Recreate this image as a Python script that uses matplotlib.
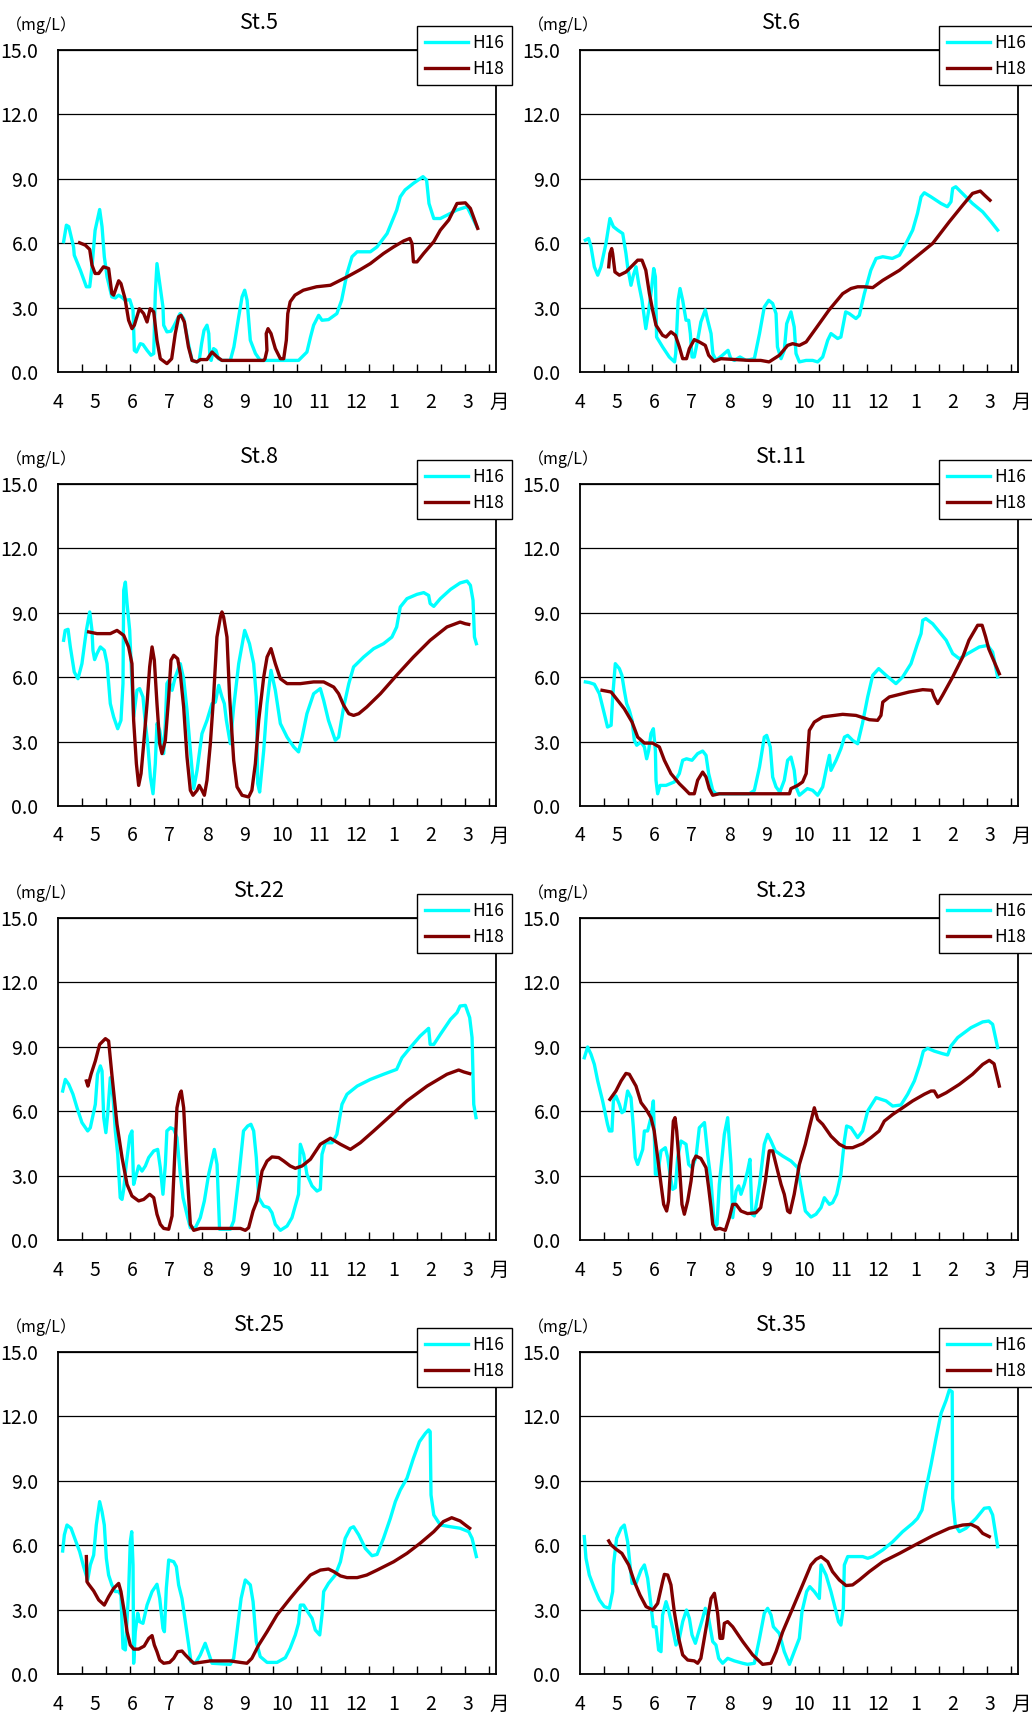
import matplotlib.pyplot as plt
import numpy as np

plt.rcParams['font.family'] = ['Noto Sans CJK JP', 'DejaVu Sans']

# 横軸は4月1日からの日数
months = ['4', '5', '6', '7', '8', '9', '10', '11', '12', '1', '2', '3']
stations = ['St.5', 'St.6', 'St.8', 'St.11', 'St.22', 'St.23', 'St.25', 'St.35']
series_names = ['H16', 'H18']
colors = ['#00FFFF', '#800000']

# (日数, mg/L)
st5_h16 = [(4.7, 6.07), (7, 6.84), (9, 6.77), (13, 5.83), (13.6, 5.44), (18.7, 4.74), (23.7, 3.97), (26.5, 3.97),
           (28.4, 4.9), (31, 6.6), (34.8, 7.57), (36.8, 6.77), (38.7, 5.37), (41, 4.43), (45, 3.5), (47.9, 3.45),
           (50.7, 3.58), (54, 3.45), (56, 3.34), (60, 3.37), (62.7, 2.88), (63.8, 1.01), (65.5, 0.93), (68.8, 1.32),
           (71, 1.28), (74.4, 1.01), (77.7, 0.78), (80, 0.86), (81.3, 3.65), (82.7, 5.05), (85, 4.12), (87.7, 3.03),
           (88.3, 2.18), (91, 1.87), (94.4, 1.9), (97.2, 2.18), (102, 2.72), (105, 2.49), (109, 1.32), (112, 0.54),
           (116, 0.47), (118, 0.54), (120, 1.32), (122, 1.94), (124.5, 2.18), (126, 1.79), (127, 0.62), (128, 0.54),
           (130, 1.09), (132, 1.01), (134, 0.62), (137, 0.54), (144, 0.54), (147, 1.17), (151, 2.57), (153.8, 3.5),
           (156, 3.81), (158, 3.34), (160.7, 1.48), (165, 0.86), (169, 0.54), (201, 0.54), (208, 0.93), (211, 1.63),
           (213.6, 2.18), (217.8, 2.64), (220.6, 2.41), (226, 2.44), (233, 2.72), (237, 3.34), (241.5, 4.59),
           (245.7, 5.37), (250, 5.6), (261, 5.6), (266.6, 5.83), (275, 6.45), (283, 7.54), (286, 8.16), (290, 8.48),
           (297, 8.79), (305, 9.1), (308, 8.94), (310, 7.85), (314, 7.15), (319.5, 7.15), (328, 7.39), (333, 7.54),
           (341.8, 7.7), (350, 6.77)]
st5_h18 = [(18, 6.02), (22.8, 5.91), (26.5, 5.71), (28.4, 4.98), (31, 4.59), (34, 4.59), (38, 4.9), (42.3, 4.82),
           (45, 3.65), (46.5, 3.58), (50.7, 4.25), (52.6, 4.12), (56, 3.42), (59, 2.41), (61.8, 2.02), (63.8, 2.18),
           (68, 2.95), (71.6, 2.72), (74.4, 2.33), (77, 2.95), (80, 2.8), (82.7, 1.48), (85.5, 0.62), (91, 0.39),
           (95, 0.62), (98, 1.79), (100.8, 2.57), (102.8, 2.64), (105.6, 2.33), (109, 1.17), (112, 0.54), (116, 0.47),
           (119, 0.58), (124.5, 0.58), (128.7, 0.93), (133, 0.7), (137, 0.54), (172, 0.54), (173, 0.62), (174.6, 1.01),
           (174, 1.79), (175.5, 2.02), (178, 1.79), (181.6, 1.09), (185.8, 0.62), (188.6, 0.62), (190.8, 1.48),
           (192, 2.72), (194, 3.27), (198, 3.58), (205, 3.81), (216, 3.97), (227.6, 4.04), (241.5, 4.43),
           (252.6, 4.77), (261, 5.05), (272, 5.52), (280.5, 5.83), (289, 6.11), (294, 6.22), (295.8, 5.99),
           (297, 5.13), (300, 5.13), (305.5, 5.52), (314, 6.07), (319.5, 6.61), (326.5, 7.08), (333.4, 7.85),
           (340.4, 7.88), (344.6, 7.62), (350.7, 6.69)]

st6_h16 = [(4.5, 6.14), (7.2, 6.22), (9.2, 5.83), (12, 4.9), (14.8, 4.51), (17.5, 4.9), (21.7, 5.99), (25, 7.15),
           (27.9, 6.77), (31.5, 6.61), (35.7, 6.45), (38.4, 5.52), (39.8, 4.9), (42.6, 4.04), (44.6, 4.51), (46.8, 4.9),
           (49, 4.12), (51.8, 3.34), (55, 2.02), (57.4, 2.88), (60, 3.97), (61.6, 4.82), (63, 4.43), (64, 1.63),
           (69, 1.17), (74.6, 0.7), (79, 0.47), (80, 0.86), (82, 3.34), (83.6, 3.89), (85.8, 3.34), (88.6, 2.41),
           (90.8, 2.41), (92.2, 1.79), (93.6, 0.7), (95.5, 0.7), (98.3, 1.48), (101, 2.33), (104.7, 2.9), (106.7, 2.41),
           (109.5, 1.79), (111, 0.86), (113.6, 0.54), (119, 0.78), (123.7, 1.01), (126, 0.62), (129, 0.54),
           (133.7, 0.7), (138.7, 0.54), (145.7, 0.62), (150, 1.79), (154, 3.03), (157.7, 3.34), (161, 3.19),
           (163.8, 2.72), (165, 1.17), (168, 0.62), (170.7, 1.01), (172.7, 2.25), (176.3, 2.8), (179, 2.1),
           (180.5, 0.86), (183.3, 0.47), (188.9, 0.54), (194.4, 0.54), (198.6, 0.47), (202.8, 0.7), (207, 1.48),
           (209.7, 1.79), (215.3, 1.56), (218, 1.63), (222, 2.8), (225, 2.72), (230.6, 2.49), (233.4, 2.64),
           (237.6, 3.65), (243, 4.74), (247.4, 5.29), (253, 5.37), (261, 5.29), (266.9, 5.44), (272.4, 5.99),
           (278, 6.61), (282, 7.39), (285, 8.16), (287.7, 8.35), (293.3, 8.16), (301.7, 7.85), (307, 7.7),
           (310, 7.93), (311.4, 8.55), (314, 8.63), (321, 8.24), (328, 7.85), (336.5, 7.46), (343.5, 7.0),
           (349, 6.61)]
st6_h18 = [(24, 4.9), (25, 5.52), (26.5, 5.75), (27.3, 5.52), (29.2, 4.66), (32.9, 4.51), (38.4, 4.66), (44, 4.97),
           (48.2, 5.21), (51.8, 5.21), (55, 4.74), (58, 3.65), (60.7, 2.88), (63.5, 2.18), (69, 1.71), (71.9, 1.63),
           (76, 1.87), (79.7, 1.71), (83, 1.17), (85.8, 0.62), (89, 0.62), (91.4, 1.09), (95.5, 1.51), (99.7, 1.4),
           (104.7, 1.24), (107.5, 0.78), (112, 0.5), (117.8, 0.62), (141.5, 0.54), (151, 0.54), (158, 0.47),
           (166.6, 0.78), (173.5, 1.24), (177.7, 1.32), (183.3, 1.24), (189, 1.4), (197, 2.02), (208, 2.88),
           (219.5, 3.65), (226.5, 3.89), (232, 3.97), (237.6, 3.97), (244.6, 3.93), (253, 4.27), (267, 4.74),
           (281, 5.37), (294.7, 5.99), (308.6, 7.0), (319.8, 7.77), (328, 8.32), (334.5, 8.43), (338, 8.24),
           (342.6, 8.0)]

st8_h16 = [(4.7, 7.72), (6, 8.18), (8.4, 8.23), (10.3, 7.41), (13.6, 6.24), (16.7, 5.93), (20, 6.63), (23.7, 8.18),
           (26.5, 9.04), (28.4, 8.18), (29.2, 7.25), (30.6, 6.82), (32.6, 7.1), (35.4, 7.41), (38.7, 7.25), (41, 6.63),
           (43.7, 4.77), (46.5, 4.15), (49.9, 3.6), (52.6, 3.99), (54.3, 5.7), (54.9, 10.05), (56.3, 10.43),
           (57.7, 9.43), (59.9, 8.18), (61.8, 5.7), (63.2, 4.15), (66, 5.39), (68.2, 5.47), (71, 5.08), (73, 3.84),
           (75, 2.9), (77.2, 1.35), (79.4, 0.57), (81.3, 1.97), (82.7, 3.84), (85, 3.52), (88.3, 2.44), (89.7, 3.84),
           (91, 5.7), (92.5, 5.85), (95.3, 5.39), (98, 6.01), (102.2, 6.63), (105, 5.93), (107.8, 4.46), (110.6, 2.59),
           (113.4, 0.81), (116.2, 1.66), (120.3, 3.37), (124.5, 3.99), (128.7, 4.77), (131.5, 4.84), (134.3, 5.62),
           (137, 5.08), (139, 4.77), (140.7, 3.99), (144, 2.9), (146.8, 4.61), (151, 6.63), (156, 8.18), (160, 7.56),
           (163.5, 6.63), (165.7, 5.08), (166.9, 1.04), (168.5, 0.65), (171.9, 2.59), (174.7, 4.77), (178, 6.32),
           (181.6, 5.39), (185.8, 3.84), (191.4, 3.21), (197, 2.75), (201, 2.52), (204, 3.21), (208, 4.3),
           (213.6, 5.23), (219.2, 5.47), (222, 4.92), (226, 3.99), (231.7, 3.06), (234.5, 3.21), (238.7, 4.61),
           (243, 5.7), (247, 6.48), (255.4, 6.94), (263.8, 7.33), (272, 7.56), (279, 7.87), (283, 8.34), (286, 9.27),
           (291.6, 9.66), (300, 9.86), (305.6, 9.94), (309.7, 9.81), (311, 9.43), (314, 9.3), (319.5, 9.66),
           (328, 10.09), (336, 10.39), (341.8, 10.48), (344.6, 10.28), (346.8, 9.58), (348, 7.87), (349.6, 7.56)]
st8_h18 = [(25.6, 8.11), (32.6, 8.03), (43.7, 8.03), (49.3, 8.18), (54.9, 7.95), (59, 7.41), (61.8, 6.63),
           (63.2, 3.99), (65.5, 1.97), (67.4, 0.96), (69.4, 1.51), (71.6, 2.9), (74.4, 4.77), (76.6, 6.48),
           (78.6, 7.41), (80.5, 6.79), (82.7, 4.77), (85, 2.9), (86.9, 2.44), (89.7, 3.06), (92.5, 5.08), (94.4, 6.79),
           (96.7, 7.02), (100, 6.86), (102.2, 6.16), (105, 4.61), (107.8, 2.28), (110.6, 0.73), (112.8, 0.5),
           (116.2, 0.73), (118, 0.96), (120.3, 0.73), (122.3, 0.5), (124.5, 1.2), (127.3, 2.9), (130, 5.08),
           (132.8, 7.87), (135.7, 8.8), (137, 9.04), (138.4, 8.8), (141.2, 7.87), (143.4, 5.08), (146.8, 2.13),
           (149.6, 0.89), (153.8, 0.5), (159.3, 0.42), (162, 0.73), (164.9, 1.97), (167.7, 3.99), (171.9, 6.01),
           (174.7, 6.94), (178, 7.33), (181.6, 6.63), (185.8, 5.93), (191.4, 5.7), (202.5, 5.7), (213.6, 5.78),
           (222, 5.78), (230.4, 5.54), (234.5, 5.23), (238.7, 4.69), (243, 4.3), (247, 4.22), (251.3, 4.3),
           (258, 4.61), (269.4, 5.23), (283, 6.09), (297, 6.94), (311, 7.72), (325, 8.34), (336, 8.57),
           (340.4, 8.49), (343.2, 8.46)]

st11_h16 = [(4.5, 5.78), (7.8, 5.75), (12, 5.67), (16.2, 5.23), (20.3, 4.3), (23, 3.68), (26, 3.76), (27.3, 5.08),
            (29.5, 6.63), (32.9, 6.4), (35, 6.09), (37, 5.39), (39, 4.77), (41.2, 4.46), (43.5, 3.99), (45.4, 3.06),
            (47.4, 2.83), (51, 2.98), (53.8, 2.75), (55.7, 2.2), (57.4, 2.59), (59.3, 3.37), (61.3, 3.6), (63, 2.59),
            (63.5, 1.2), (64.9, 0.57), (66.9, 0.96), (71.9, 0.96), (78.8, 1.12), (83, 1.51), (85.8, 2.13), (89, 2.2),
            (93.6, 2.13), (98.3, 2.44), (102.5, 2.56), (105.3, 2.36), (107.5, 1.51), (110.9, 0.73), (113.6, 0.57),
            (119, 0.57), (141.5, 0.57), (145.7, 0.73), (150, 1.82), (154, 3.21), (156, 3.29), (159, 2.75),
            (161, 1.35), (163.8, 0.89), (167, 0.65), (170.7, 1.2), (173.5, 2.13), (176.3, 2.28), (179, 1.66),
            (180.5, 0.89), (183.3, 0.5), (190, 0.81), (194.4, 0.73), (198.6, 0.5), (202.8, 0.89), (205.6, 1.66),
            (208.4, 2.36), (209.7, 1.66), (214, 2.13), (218, 2.67), (221, 3.21), (223.7, 3.29), (227.8, 3.06),
            (232, 2.9), (236, 3.84), (240.4, 5.08), (244.6, 6.09), (249.6, 6.4), (255.7, 6.09), (264, 5.7),
            (269.6, 6.01), (276.6, 6.63), (282, 7.56), (285, 8.03), (286.4, 8.65), (289, 8.73), (294.7, 8.49),
            (306, 7.72), (311.4, 7.1), (317, 6.86), (324, 7.1), (333.7, 7.41), (340.7, 7.48), (344.8, 7.17),
            (349, 6.01)]
st11_h18 = [(18.4, 5.39), (26, 5.31), (31.5, 4.92), (37, 4.53), (43.5, 3.91), (48.2, 3.21), (53.8, 2.93),
            (60.7, 2.93), (66.3, 2.75), (70.5, 2.13), (76, 1.51), (83, 1.04), (87.2, 0.81), (91.4, 0.57),
            (95.5, 0.57), (98.3, 1.2), (102.5, 1.58), (105.3, 1.35), (108, 0.81), (110.9, 0.5), (116.4, 0.57),
            (175, 0.57), (176.3, 0.81), (181.9, 0.96), (186, 1.12), (189, 1.51), (191.6, 3.52), (195.8, 3.91),
            (202.8, 4.15), (219.5, 4.27), (230.6, 4.22), (241.8, 4.02), (248.7, 3.99), (251.5, 4.22), (253, 4.84),
            (258.5, 5.08), (275, 5.31), (286.4, 5.42), (294, 5.39), (296, 5.08), (298.9, 4.77), (303, 5.16),
            (311.4, 6.01), (319.8, 6.94), (325, 7.72), (332.3, 8.42), (336, 8.42), (339, 7.87), (341.5, 7.33),
            (350.4, 6.16)]

st22_h16 = [(3.9, 6.94), (6.1, 7.48), (9, 7.25), (12.5, 6.79), (15.9, 6.16), (20, 5.47), (24.8, 5.08), (27, 5.23),
            (31.2, 6.32), (33, 7.72), (35.4, 8.11), (36.8, 7.87), (38.2, 5.7), (40, 5.0), (41.5, 5.85), (43.7, 7.56),
            (46, 6.63), (47.9, 5.08), (49.9, 3.99), (52, 1.97), (53.5, 1.89), (54.9, 2.36), (57, 3.52), (60, 4.84),
            (61.8, 5.08), (63.2, 2.59), (65.5, 3.06), (67.4, 3.45), (70.2, 3.21), (73, 3.45), (75.8, 3.84), (80, 4.15),
            (83.3, 4.22), (85.5, 3.37), (87.7, 2.13), (89.7, 3.52), (91, 5.08), (93.9, 5.23), (96.7, 5.16),
            (99.4, 4.77), (102.2, 3.06), (104.5, 1.97), (106.4, 1.51), (108.4, 1.04), (110.6, 0.57), (114.8, 0.57),
            (118.9, 1.04), (122.3, 1.82), (125.9, 3.06), (130.6, 4.22), (132.9, 3.52), (134.3, 1.51), (135, 0.5),
            (144, 0.5), (146.8, 0.89), (151, 2.9), (155, 5.08), (158.5, 5.31), (161.2, 5.39), (163.5, 5.08),
            (165.7, 3.84), (167.7, 1.97), (171.9, 1.58), (176, 1.51), (178.8, 1.27), (181.6, 0.73), (185.8, 0.45),
            (191.4, 0.65), (195.5, 1.04), (201, 2.13), (202.5, 4.46), (205.3, 3.99), (208, 3.06), (212.3, 2.52),
            (216.4, 2.28), (219.2, 2.36), (220.6, 3.99), (223.4, 4.53), (229, 4.53), (233, 4.92), (237.3, 6.32),
            (241.5, 6.79), (250, 7.17), (261, 7.48), (272, 7.72), (283, 7.95), (287.4, 8.49), (294.3, 8.96),
            (302.6, 9.5), (309.7, 9.86), (311, 9.11), (314, 9.11), (319.5, 9.58), (328, 10.28), (333.4, 10.59),
            (336, 10.9), (340.4, 10.93), (344, 10.36), (346, 9.43), (347.4, 6.32), (349.3, 5.7)]
st22_h18 = [(23.7, 7.41), (25, 7.17), (27.6, 7.72), (31.2, 8.34), (34.8, 9.11), (39.6, 9.38), (42.3, 9.27),
            (45, 7.72), (49.3, 5.39), (53.5, 3.84), (57.7, 2.59), (61.8, 2.05), (67.4, 1.82), (71.6, 1.89),
            (76.6, 2.13), (80, 1.97), (82.7, 1.2), (85.5, 0.73), (88.3, 0.54), (92.5, 0.5), (95.3, 1.12), (97.2, 3.52),
            (99.4, 6.16), (101.7, 6.79), (103, 6.94), (105, 6.16), (107.2, 3.84), (109.2, 1.97), (110.6, 0.73),
            (113.4, 0.45), (118.9, 0.54), (152.4, 0.54), (156.5, 0.45), (159.3, 0.57), (163, 1.35), (166.3, 1.82),
            (170.5, 3.21), (174.7, 3.68), (178.8, 3.87), (184.4, 3.84), (188.6, 3.68), (194, 3.45), (198.3, 3.34),
            (204, 3.45), (210.9, 3.76), (219.2, 4.46), (227.6, 4.74), (236, 4.46), (244.3, 4.22), (252.6, 4.53),
            (263.8, 5.08), (277.7, 5.78), (291.6, 6.48), (308.4, 7.17), (325, 7.72), (334.8, 7.92), (339, 7.83),
            (344, 7.75)]

st23_h16 = [(3.6, 8.49), (6.4, 8.99), (9.2, 8.65), (12, 8.18), (14.8, 7.41), (18.9, 6.48), (23, 5.39), (24.5, 5.08),
            (26.7, 5.08), (27.9, 6.48), (30, 6.71), (32.9, 6.32), (35, 5.93), (37, 6.01), (39.8, 6.94), (42.6, 6.63),
            (44.6, 5.23), (46.2, 3.84), (48.2, 3.52), (50.1, 3.84), (52.4, 4.22), (53.8, 5.08), (56.5, 5.08),
            (59.3, 5.7), (61.3, 6.48), (63, 3.06), (64.9, 3.06), (67.7, 4.15), (71.3, 4.3), (73.3, 3.84), (75.2, 3.06),
            (77.4, 2.36), (79.7, 2.44), (81.6, 3.84), (84.4, 4.61), (88.6, 4.46), (90.8, 3.52), (93.6, 3.37),
            (96.9, 3.84), (99.7, 5.23), (104, 5.47), (106.7, 3.99), (109.5, 2.75), (112.3, 0.57), (114.5, 0.73),
            (116.4, 2.59), (118.7, 3.84), (120.6, 4.92), (123.4, 5.7), (126.2, 3.52), (127.6, 1.04), (130.4, 2.28),
            (132.6, 2.52), (134.5, 2.13), (137.3, 2.59), (140, 3.21), (142, 3.76), (143.7, 1.2), (145.7, 1.12),
            (150, 2.59), (154, 4.46), (156.8, 4.92), (159.6, 4.61), (163.2, 4.15), (169.4, 3.91), (176.3, 3.68),
            (181.9, 3.37), (185.5, 2.2), (188.3, 1.35), (193, 1.07), (197.2, 1.2), (201.4, 1.51), (204.2, 1.97),
            (208.4, 1.66), (211.1, 1.74), (214.5, 2.13), (218, 3.06), (220.9, 4.61), (222.8, 5.31), (226.5, 5.23),
            (232, 4.77), (236.2, 5.08), (240.4, 6.01), (247.4, 6.63), (255.7, 6.48), (261.3, 6.24), (268.2, 6.29),
            (273.8, 6.79), (279.4, 7.41), (284, 8.18), (286.9, 8.8), (290.5, 8.93), (296, 8.8), (303, 8.68),
            (307.2, 8.62), (310, 9.04), (315.6, 9.43), (326.7, 9.89), (336.5, 10.16), (341.5, 10.2), (344.8, 10.05),
            (349, 8.96)]
st23_h18 = [(25, 6.55), (30, 6.94), (34.3, 7.41), (38.4, 7.76), (41.2, 7.72), (46.8, 7.17), (51, 6.4), (55.2, 6.09),
            (59.3, 5.7), (62, 5.08), (64.9, 3.84), (67.7, 2.59), (69.9, 1.66), (72.4, 1.35), (74, 1.82), (76, 3.68),
            (78, 5.54), (79.4, 5.7), (80.8, 5.08), (83, 3.52), (85.2, 1.66), (87.2, 1.2), (90, 1.82), (92.8, 2.75),
            (94.7, 3.68), (96.9, 3.91), (101, 3.8), (105.3, 3.37), (107.5, 2.44), (109.5, 1.51), (110.9, 0.73),
            (113, 0.5), (117, 0.54), (121.4, 0.45), (124.8, 1.04), (127.6, 1.66), (130.4, 1.66), (134.5, 1.35),
            (140, 1.23), (147, 1.27), (151, 1.51), (154.9, 2.75), (158.2, 4.15), (161, 4.15), (163.8, 3.52),
            (168, 2.59), (170.7, 2.13), (173.5, 1.35), (175.5, 1.27), (179, 2.13), (183.3, 3.52), (188.3, 4.46),
            (191.6, 5.23), (195.8, 6.16), (198.6, 5.62), (202.8, 5.39), (209.7, 4.84), (216.7, 4.46), (222.3, 4.3),
            (227.8, 4.3), (236.2, 4.49), (243.2, 4.77), (250, 5.08), (254.3, 5.54), (261.3, 5.85), (269.6, 6.16),
            (278, 6.48), (287.7, 6.79), (293.3, 6.94), (296, 6.94), (298.9, 6.66), (306, 6.86), (317, 7.25),
            (328, 7.72), (336.5, 8.18), (342, 8.37), (346, 8.21), (350.4, 7.17)]

st25_h16 = [(3.9, 5.73), (5.3, 6.48), (7.5, 6.94), (10.9, 6.79), (14.5, 6.24), (18.1, 5.7), (21.4, 5.0), (24.8, 4.38),
            (27, 5.08), (29.8, 5.54), (32, 6.94), (34.8, 8.03), (36.8, 7.56), (38.7, 6.94), (40.4, 5.39), (42.3, 4.61),
            (45, 4.15), (47.9, 3.84), (50.7, 3.84), (52.6, 3.68), (54.3, 1.2), (56.3, 1.12), (59, 3.84), (60.4, 6.16),
            (61.6, 6.63), (62.7, 5.08), (63.2, 0.5), (64.6, 1.97), (66.6, 2.83), (68.2, 2.44), (71, 2.36),
            (74.4, 3.21), (78.6, 3.84), (82.7, 4.18), (85, 3.52), (87.7, 2.13), (88.9, 1.97), (90.5, 3.99),
            (92.5, 5.31), (96.7, 5.23), (98.9, 5.0), (100.8, 4.15), (103.6, 3.52), (106.4, 2.44), (109.2, 1.35),
            (111.1, 0.57), (114.8, 0.5), (118.9, 0.89), (123, 1.43), (125.9, 0.96), (128.7, 0.5), (144, 0.45),
            (146.8, 0.73), (149.6, 1.97), (153, 3.52), (156.5, 4.38), (160.7, 4.15), (163, 3.37), (165.7, 1.51),
            (169, 0.81), (174.7, 0.54), (183, 0.54), (190, 0.76), (194, 1.2), (198.3, 1.82), (201, 2.36),
            (202.5, 3.21), (205.3, 3.21), (208.6, 2.9), (212.3, 2.59), (215, 2.05), (218.7, 1.82), (220.6, 2.75),
            (222, 3.84), (226, 4.22), (231.7, 4.61), (236, 5.23), (240, 6.32), (244.3, 6.79), (247, 6.86),
            (251.3, 6.48), (256.8, 5.85), (262.4, 5.51), (266.6, 5.57), (272, 6.32), (277.7, 7.25), (281.9, 8.03),
            (286, 8.57), (291.6, 9.12), (297, 10.05), (302, 10.82), (307, 11.21), (309.7, 11.37), (311, 11.29),
            (311.7, 8.34), (314, 7.41), (319.5, 6.94), (328, 6.86), (336, 6.79), (343.2, 6.63), (346, 6.32),
            (349.6, 5.47)]
st25_h18 = [(23.7, 5.47), (24.2, 4.3), (25.6, 4.18), (29.8, 3.87), (34, 3.45), (38.7, 3.21), (42.3, 3.6),
            (46.5, 3.99), (50.7, 4.22), (52.6, 3.84), (55.4, 2.9), (57.7, 1.97), (60.4, 1.35), (63.2, 1.16),
            (67.4, 1.16), (72, 1.3), (75.8, 1.66), (78.6, 1.79), (80.5, 1.35), (82.7, 1.04), (85, 0.65), (88.3, 0.5),
            (93.3, 0.54), (96.7, 0.73), (100, 1.04), (103.6, 1.07), (106.4, 0.89), (110.6, 0.65), (113.4, 0.5),
            (118.9, 0.54), (127.3, 0.61), (144, 0.61), (152.4, 0.54), (157.9, 0.5), (162, 0.73), (167.7, 1.35),
            (174.7, 1.97), (183, 2.75), (188.6, 3.14), (194, 3.52), (201, 3.99), (210.9, 4.61), (219.2, 4.84),
            (226, 4.89), (230.4, 4.77), (236, 4.57), (241.5, 4.49), (250, 4.49), (258, 4.61), (266.6, 4.84),
            (280.5, 5.23), (291.6, 5.62), (302.6, 6.09), (314, 6.63), (322, 7.1), (329, 7.28), (336, 7.13),
            (340.4, 6.94), (344, 6.79)]

st35_h16 = [(3.6, 6.4), (5, 5.39), (7.8, 4.61), (12, 3.99), (16.2, 3.45), (20.3, 3.14), (24.5, 3.06), (27.3, 3.84),
            (28, 5.08), (30.6, 6.32), (34.3, 6.79), (37, 6.94), (39.8, 6.16), (41.8, 5.08), (43.5, 4.22), (46.8, 4.22),
            (51, 4.84), (53.8, 5.08), (56.5, 4.46), (59.3, 3.21), (61.3, 2.2), (63.5, 2.2), (65.7, 1.12), (67.7, 1.04),
            (69, 2.75), (71.9, 3.37), (74, 2.98), (77.4, 2.13), (80.2, 1.35), (83, 1.66), (85.8, 2.44), (89, 2.98),
            (91.4, 2.59), (93.6, 1.82), (96.4, 1.43), (99.2, 1.97), (102.5, 2.59), (104.7, 3.06), (107.5, 2.59),
            (110.9, 1.51), (113.6, 1.35), (115.9, 0.73), (119.2, 0.5), (123.4, 0.73), (129, 0.61), (136, 0.5),
            (140, 0.45), (145.7, 0.5), (150, 1.66), (154, 2.83), (156.8, 3.06), (159.6, 2.75), (161.6, 2.2),
            (166.6, 1.89), (170.7, 1.04), (175, 0.45), (179, 1.04), (183.3, 1.66), (185.5, 2.9), (189.4, 3.84),
            (192, 4.07), (195.8, 3.84), (200, 3.52), (201.4, 5.08), (205.6, 4.61), (209.7, 3.84), (214, 2.9),
            (216, 2.44), (218, 2.28), (220, 3.06), (220.9, 5.08), (223.7, 5.47), (236.2, 5.47), (240.4, 5.39),
            (244.6, 5.47), (253, 5.78), (261.3, 6.16), (269.6, 6.63), (278, 7.02), (282, 7.25), (285.8, 7.64),
            (288.6, 8.49), (293.3, 9.74), (297.5, 10.98), (301.7, 12.14), (306, 12.76), (308.6, 13.23), (311, 13.15),
            (311.4, 8.18), (313.6, 6.94), (317, 6.63), (322.6, 6.79), (331, 7.25), (337.8, 7.72), (342, 7.75),
            (344.8, 7.41), (349, 5.93)]
st35_h18 = [(24, 6.2), (25.9, 6.02), (30, 5.82), (35, 5.62), (40.7, 5.08), (45.4, 4.3), (50.1, 3.68), (55.2, 3.14),
            (60.7, 2.98), (64.9, 3.29), (69, 4.3), (70.5, 4.64), (73.3, 4.61), (76, 4.15), (78.8, 2.9), (82.5, 1.66),
            (85.8, 0.89), (90, 0.65), (95.5, 0.61), (98.3, 0.5), (101, 0.73), (105.3, 2.13), (109.5, 3.52),
            (112.3, 3.76), (115, 2.83), (117, 1.66), (119.2, 1.66), (120.6, 2.36), (123.4, 2.44), (127.6, 2.2),
            (136, 1.51), (144.3, 0.89), (152.6, 0.45), (159.6, 0.5), (163.8, 1.04), (169.4, 1.97), (177.7, 3.06),
            (186, 4.15), (193, 5.08), (197.2, 5.34), (201.4, 5.47), (207, 5.23), (211, 4.77), (216.7, 4.38),
            (222.3, 4.12), (227.8, 4.15), (233.4, 4.38), (241.8, 4.77), (253, 5.23), (267, 5.62), (281, 6.04),
            (294.7, 6.44), (308.6, 6.79), (319.8, 6.94), (326.7, 6.97), (332.3, 6.82), (336.5, 6.55), (342, 6.4)]

all_data = [(st5_h16, st5_h18), (st6_h16, st6_h18), (st8_h16, st8_h18), (st11_h16, st11_h18),
            (st22_h16, st22_h18), (st23_h16, st23_h18), (st25_h16, st25_h18), (st35_h16, st35_h18)]

W, H = 1032, 1713
fig = plt.figure(figsize=(W / 100, H / 100), dpi=100)

col_left = [58, 580]
row_top = [50, 484, 918, 1352]
aw, ah = 438, 322
month_step = 31.15

for k, name in enumerate(stations):
    r, c = divmod(k, 2)
    ax = fig.add_axes([col_left[c] / W, 1 - (row_top[r] + ah) / H, aw / W, ah / H])

    for data, lab, col in zip(all_data[k], series_names, colors):
        d = np.array(data)
        ax.plot(d[:, 0], d[:, 1], color=col, lw=2.4, label=lab, solid_joinstyle='round')

    ax.set_xlim(0, 366)
    ax.set_ylim(0, 15)
    yt = np.arange(0, 15.1, 3)
    ax.set_yticks(yt)
    ax.set_yticklabels(['%.1f' % v for v in yt], fontsize=14)
    ax.tick_params(axis='y', length=0, pad=14)
    ax.set_xticks(np.arange(20, 366, 20))
    ax.set_xticklabels([])
    ax.tick_params(axis='x', direction='in', length=6, width=1)
    ax.grid(axis='y', color='black', lw=0.9)
    for sp in ax.spines.values():
        sp.set_linewidth(1.3)

    tr = ax.get_xaxis_transform()
    for i, m in enumerate(months):
        ax.text(i * month_step, -30 / ah, m, transform=tr, ha='center', va='center', fontsize=14)
    ax.text(369, -30 / ah, '月', transform=tr, ha='center', va='center', fontsize=14, clip_on=False)

    ax.text(0.46, 1 + 27 / ah, name, transform=ax.transAxes, ha='center', va='center', fontsize=15.5)
    ax.text(-52 / aw, 1 + 25 / ah, '（mg/L）', transform=ax.transAxes, ha='left', va='center', fontsize=11.5)

    leg = ax.legend(loc='upper left', bbox_to_anchor=(0.82, 1 + 24 / ah), borderaxespad=0,
                    fontsize=12.5, handlelength=2.5, handletextpad=0.25, labelspacing=0.45,
                    borderpad=0.45, fancybox=False, framealpha=1, edgecolor='black')
    leg.get_frame().set_linewidth(1)

fig.savefig('out.png', dpi=100)
